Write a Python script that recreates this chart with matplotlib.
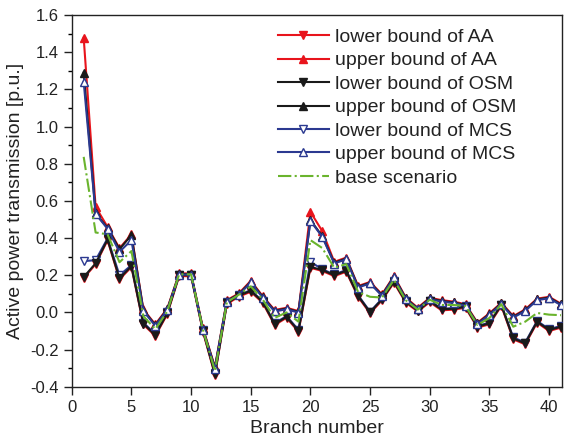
import numpy as np
import matplotlib.pyplot as plt
from matplotlib.ticker import MultipleLocator

plt.rcParams['font.family'] = ['Liberation Sans', 'DejaVu Sans']

branch = np.arange(1, 42)

osm_upper = [1.29, 0.533, 0.455, 0.34, 0.416, 0.012, -0.068, 0.016, 0.206, 0.206,
             -0.09, -0.298, 0.062, 0.098, 0.165, 0.084, 0.009, 0.021, 0.003, 0.497,
             0.41, 0.267, 0.29, 0.138, 0.16, 0.093, 0.192, 0.075, 0.021, 0.075,
             0.062, 0.054, 0.04, -0.059, -0.009, 0.048, -0.024, 0.012, 0.07, 0.08, 0.043]
osm_lower = [0.19, 0.264, 0.393, 0.183, 0.249, -0.06, -0.122, -0.005, 0.2, 0.2,
             -0.1, -0.332, 0.05, 0.09, 0.116, 0.057, -0.063, -0.024, -0.099, 0.245,
             0.228, 0.2, 0.224, 0.088, 0.0, 0.07, 0.165, 0.057, 0.01, 0.06,
             0.016, 0.02, 0.03, -0.077, -0.059, 0.04, -0.14, -0.167, -0.05, -0.095, -0.077]
aa_upper = [1.478, 0.568, 0.46, 0.345, 0.42, 0.016, -0.064, 0.02, 0.21, 0.21,
            -0.086, -0.294, 0.066, 0.102, 0.17, 0.088, 0.013, 0.025, 0.007, 0.541,
            0.437, 0.272, 0.295, 0.142, 0.164, 0.097, 0.196, 0.079, 0.025, 0.079,
            0.066, 0.058, 0.044, -0.055, -0.005, 0.052, -0.02, 0.016, 0.074, 0.084, 0.047]
aa_lower = [0.185, 0.259, 0.388, 0.178, 0.244, -0.065, -0.127, -0.01, 0.195, 0.195,
            -0.105, -0.337, 0.045, 0.085, 0.111, 0.052, -0.068, -0.029, -0.104, 0.24,
            0.223, 0.195, 0.219, 0.083, -0.005, 0.065, 0.16, 0.052, 0.005, 0.055,
            0.011, 0.015, 0.025, -0.082, -0.064, 0.035, -0.145, -0.172, -0.055, -0.1, -0.082]
mcs_upper = [1.241, 0.53, 0.45, 0.326, 0.389, 0.008, -0.072, 0.012, 0.203, 0.203,
             -0.094, -0.302, 0.058, 0.094, 0.161, 0.08, 0.005, 0.017, -0.001, 0.493,
             0.406, 0.263, 0.286, 0.134, 0.156, 0.089, 0.188, 0.071, 0.017, 0.071,
             0.058, 0.05, 0.036, -0.063, -0.013, 0.044, -0.028, 0.008, 0.066, 0.076, 0.039]
mcs_lower = [0.276, 0.281, 0.398, 0.2, 0.254, -0.055, -0.117, 0.0, 0.202, 0.202,
             -0.097, -0.327, 0.054, 0.093, 0.12, 0.06, -0.058, -0.02, -0.094, 0.272,
             0.232, 0.204, 0.228, 0.092, 0.004, 0.073, 0.168, 0.06, 0.013, 0.063,
             0.02, 0.023, 0.032, -0.073, -0.055, 0.042, -0.135, -0.162, -0.046, -0.09, -0.073]
base = [0.837, 0.43, 0.42, 0.27, 0.33, -0.02, -0.09, 0.005, 0.205, 0.205,
        -0.095, -0.315, 0.055, 0.095, 0.14, 0.07, -0.03, 0.0, -0.05, 0.389,
        0.346, 0.24, 0.26, 0.11, 0.084, 0.08, 0.175, 0.065, 0.015, 0.068,
        0.04, 0.04, 0.035, -0.068, -0.03, 0.044, -0.077, -0.05, -0.003, -0.012, -0.015]

red = '#e8141c'
black = '#1a1a1a'
blue = '#2b3990'
green = '#6ab42d'
ink = '#222222'

fig = plt.figure(figsize=(5.65, 4.43), dpi=100)
ax = fig.add_axes([0.127, 0.127, 0.868, 0.839])

ms = 6
ax.plot(branch, aa_lower, '-v', color=red, lw=1.5, ms=ms, zorder=2, label='lower bound of AA')
ax.plot(branch, aa_upper, '-^', color=red, lw=1.5, ms=ms, zorder=2, label='upper bound of AA')
ax.plot(branch, osm_lower, '-v', color=black, lw=1.5, ms=ms, zorder=4, label='lower bound of OSM')
ax.plot(branch, osm_upper, '-^', color=black, lw=1.5, ms=ms, zorder=3, label='upper bound of OSM')
ax.plot(branch, mcs_lower, '-v', color=blue, lw=1.5, ms=ms, mfc='white', mec=blue, mew=1,
        zorder=3, label='lower bound of MCS')
ax.plot(branch, mcs_upper, '-^', color=blue, lw=1.5, ms=ms, mfc='white', mec=blue, mew=1,
        zorder=5, label='upper bound of MCS')
ax.plot(branch, base, '-.', color=green, lw=1.5, zorder=6, label='base scenario')

ax.set_xlim(0, 41.1)
ax.set_ylim(-0.4, 1.6)
ax.xaxis.set_major_locator(MultipleLocator(5))
ax.yaxis.set_major_locator(MultipleLocator(0.2))
ax.yaxis.set_minor_locator(MultipleLocator(0.1))
ax.yaxis.set_major_formatter(plt.FuncFormatter(lambda v, p: f'{v:.1f}'))
ax.tick_params(direction='out', labelsize=12, length=6, width=1, colors=ink)
ax.tick_params(which='minor', direction='out', length=3, width=1)
for s in ax.spines.values():
    s.set_linewidth(1)
    s.set_color(ink)

ax.set_xlabel('Branch number', fontsize=14, color=ink)
ax.set_ylabel('Active power transmission [p.u.]', fontsize=14, color=ink)

leg = ax.legend(loc='upper left', bbox_to_anchor=(0.405, 0.985), frameon=False,
                fontsize=14, handlelength=2.6, labelspacing=0.3, handletextpad=0.3,
                borderaxespad=0, markerscale=0.9)
for t in leg.get_texts():
    t.set_color(ink)

fig.savefig('out.png', dpi=100)
